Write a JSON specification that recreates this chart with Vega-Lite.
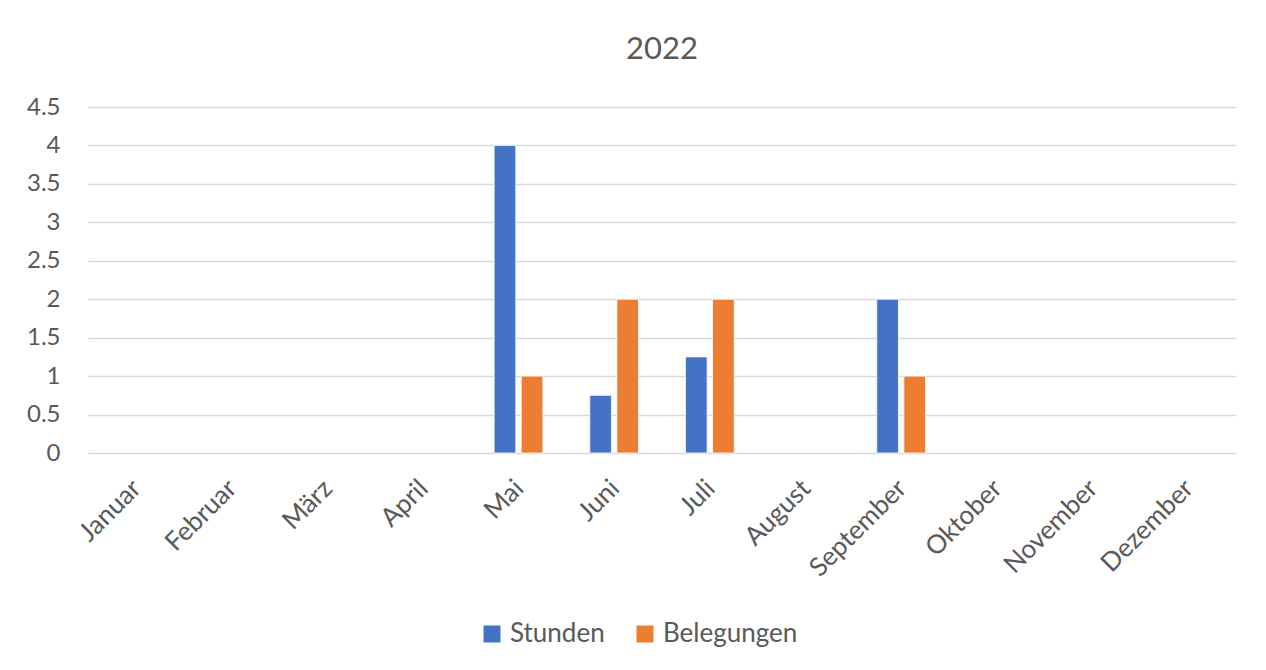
{
  "$schema": "https://vega.github.io/schema/vega-lite/v6.json",
  "autosize": {"type": "none"},
  "width": 1148,
  "height": 346,
  "padding": {"left": 88, "top": 107, "right": 30, "bottom": 217},
  "background": "white",
  "title": {"text": "2022", "fontSize": 31, "font": "Lato", "fontWeight": "normal", "color": "#595959", "anchor": "middle", "offset": 29},
  "data": {"values": [
    {"Monat": "Mai", "Serie": "Stunden", "Wert": 4},
    {"Monat": "Mai", "Serie": "Belegungen", "Wert": 1},
    {"Monat": "Juni", "Serie": "Stunden", "Wert": 0.75},
    {"Monat": "Juni", "Serie": "Belegungen", "Wert": 2},
    {"Monat": "Juli", "Serie": "Stunden", "Wert": 1.25},
    {"Monat": "Juli", "Serie": "Belegungen", "Wert": 2},
    {"Monat": "September", "Serie": "Stunden", "Wert": 2},
    {"Monat": "September", "Serie": "Belegungen", "Wert": 1}
  ]},
  "mark": {"type": "bar", "stroke": "white", "strokeWidth": 0.8},
  "encoding": {
    "x": {"field": "Monat", "type": "nominal",
      "scale": {"domain": ["Januar","Februar","März","April","Mai","Juni","Juli","August","September","Oktober","November","Dezember"], "paddingInner": 0.49, "paddingOuter": 0.245},
      "axis": {"title": null, "labelAngle": -45, "labelAlign": "right", "labelBaseline": "middle", "labelFontSize": 26, "labelFont": "Lato", "labelColor": "#595959", "ticks": false, "domain": false, "labelPadding": 31, "labelOffset": 1}},
    "xOffset": {"field": "Serie", "type": "nominal", "sort": ["Stunden", "Belegungen"], "scale": {"paddingInner": 0.2, "paddingOuter": 0}},
    "y": {"field": "Wert", "type": "quantitative",
      "scale": {"domain": [0, 4.5], "nice": false},
      "axis": {"title": null, "values": [0,0.5,1,1.5,2,2.5,3,3.5,4,4.5], "format": "~g", "labelFontSize": 24, "labelFont": "Lato", "labelColor": "#595959", "ticks": false, "domain": false, "labelPadding": 28, "gridColor": "#d9d9d9", "gridWidth": 1.5}},
    "color": {"field": "Serie", "type": "nominal",
      "scale": {"domain": ["Stunden", "Belegungen"], "range": ["#4472C4", "#ED7D31"]},
      "legend": {"title": null, "orient": "none", "direction": "horizontal", "legendX": 391, "legendY": 514, "symbolType": "square", "symbolSize": 289, "symbolStrokeWidth": 0, "labelFontSize": 26, "labelFont": "Lato", "labelColor": "#595959", "columnPadding": 27, "labelOffset": 5}}
  },
  "config": {"view": {"stroke": null}}
}
